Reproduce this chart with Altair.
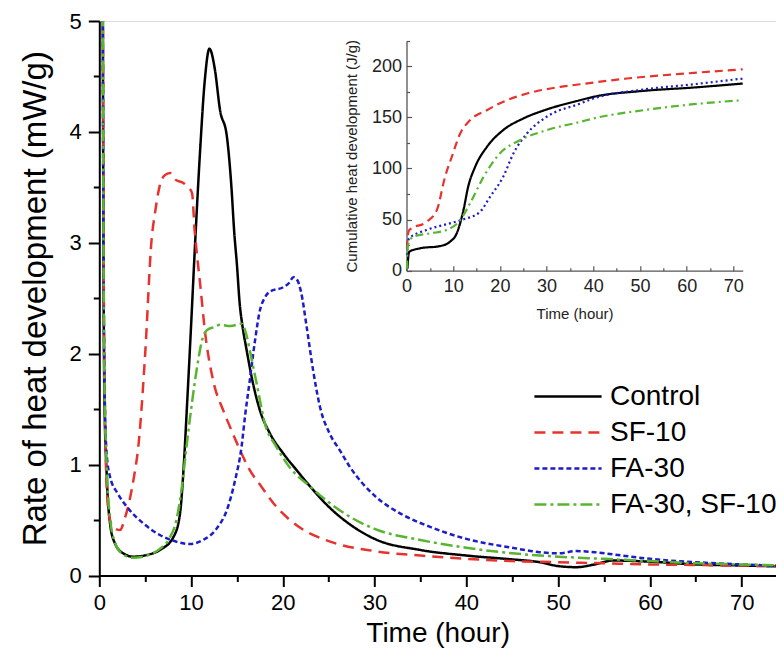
import altair as alt
import pandas as pd

FONT = "Liberation Sans"
names = ["Control", "SF-10", "FA-30", "FA-30, SF-10"]
colors = ["#000000", "#e8322e", "#1c1cc8", "#58b52f"]
dash_main = [[1, 0], [11, 7], [5, 3], [12, 4, 3, 4]]
dash_inset = [[1, 0], [8, 5], [2, 3], [8, 4, 2, 4]]

# ---- main chart: rate of heat development (mW/g) vs time (hour)
ctrl_t = [0.3, 0.45, 0.55, 0.8, 1.17, 1.7, 2.6, 3.7, 5.2, 6.6, 8.1, 8.8, 9.15, 9.6, 10.0, 10.4, 10.97, 11.5, 12.0, 12.6, 13.15, 13.9, 14.4, 14.7, 15.0, 15.3, 15.6, 16.06, 16.6, 17.5, 18.6, 20.05, 21.5, 23, 25, 27.5, 30, 35, 40, 45, 48, 50, 52, 54, 56, 60, 65, 70, 75]
ctrl_r = [9, 3.0, 1.65, 0.92, 0.47, 0.29, 0.2, 0.17, 0.185, 0.23, 0.35, 0.56, 0.92, 1.6, 2.25, 2.93, 3.81, 4.47, 4.75, 4.56, 4.2, 3.96, 3.5, 3.1, 2.8, 2.45, 2.25, 2.03, 1.79, 1.49, 1.28, 1.10, 0.95, 0.8, 0.62, 0.45, 0.33, 0.23, 0.18, 0.145, 0.12, 0.085, 0.075, 0.1, 0.135, 0.125, 0.1, 0.09, 0.08]

sf_t = [0.3, 0.5, 0.8, 1.17, 1.6, 2.25, 2.8, 3.3, 3.8, 4.25, 5.0, 5.7, 6.07, 6.6, 7.15, 7.7, 8.3, 9.15, 9.7, 10.1, 10.4, 10.7, 11.0, 11.5, 12.4, 13.5, 14.4, 15.5, 16.4, 17.5, 19.3, 21.9, 25, 30, 35, 40, 45, 50, 55, 60, 65, 70, 75]
sf_r = [9, 2.5, 0.8, 0.5, 0.43, 0.41, 0.52, 0.68, 0.9, 1.16, 2.0, 3.03, 3.27, 3.52, 3.61, 3.63, 3.57, 3.54, 3.5, 3.45, 3.1, 2.85, 2.62, 2.21, 1.76, 1.49, 1.31, 1.10, 0.95, 0.82, 0.62, 0.43, 0.31, 0.22, 0.18, 0.15, 0.13, 0.12, 0.11, 0.1, 0.095, 0.09, 0.085]

fa_t = [0.3, 0.45, 0.6, 0.8, 1.17, 2.0, 3.0, 4.8, 6.6, 8.4, 9.9, 11.3, 12.8, 13.9, 14.8, 15.5, 15.9, 16.4, 16.97, 17.5, 18.0, 18.6, 20.05, 20.7, 21.15, 21.6, 22.0, 22.6, 23.3, 24.05, 25.1, 26.2, 27.3, 30, 33, 36, 40, 45, 48, 50, 52, 54, 56, 60, 65, 70, 75]
fa_r = [9, 3.0, 1.6, 1.1, 0.89, 0.74, 0.62, 0.47, 0.365, 0.305, 0.284, 0.32, 0.425, 0.59, 0.86, 1.16, 1.45, 1.76, 2.12, 2.39, 2.5, 2.56, 2.6, 2.64, 2.69, 2.66, 2.55, 2.24, 1.85, 1.52, 1.28, 1.13, 0.98, 0.72, 0.55, 0.44, 0.33, 0.25, 0.21, 0.2, 0.22, 0.21, 0.19, 0.15, 0.12, 0.1, 0.085]

fs_t = [0.3, 0.45, 0.55, 0.8, 1.17, 1.7, 2.6, 3.7, 5.2, 6.6, 7.6, 8.4, 9.0, 9.5, 9.9, 10.6, 11.3, 11.7, 12.5, 13.15, 14.3, 15.5, 16.0, 16.4, 17.15, 18.05, 19.3, 20.8, 23, 25, 27.5, 30, 35, 40, 45, 50, 55, 60, 65, 70, 75]
fs_r = [9, 3.2, 1.8, 1.0, 0.52, 0.3, 0.19, 0.16, 0.18, 0.24, 0.33, 0.5, 0.8, 1.16, 1.43, 1.85, 2.15, 2.21, 2.24, 2.26, 2.25, 2.27, 2.18, 2.03, 1.73, 1.37, 1.16, 0.97, 0.8, 0.66, 0.52, 0.42, 0.32, 0.25, 0.2, 0.17, 0.15, 0.13, 0.11, 0.1, 0.09]

# ---- inset: cumulative heat development (J/g)
ic_t = [0.2, 0.35, 0.6, 2.9, 7.2, 9.3, 10.75, 12.2, 13.2, 14.7, 17.2, 20.7, 25, 30, 37.2, 40, 50.7, 61.5, 72]
ic_v = [2, 12, 18.6, 21.9, 24.1, 28.3, 36.5, 59.3, 82, 101.6, 121, 137.5, 148.9, 157.7, 166.8, 170, 175.9, 179.2, 183.1]
is_t = [0.1, 0.3, 0.6, 4.3, 6.5, 8.25, 9.7, 11.5, 13.6, 17.2, 21.5, 25.8, 32.9, 37.2, 47.2, 61.5, 72]
is_v = [22, 35, 39.8, 47.9, 59.3, 91.8, 111.4, 134.2, 147.2, 157, 166.8, 173.3, 179.8, 182.4, 188, 193.5, 197]
if_t = [0.1, 0.3, 0.6, 4.3, 9.3, 12.2, 15.75, 17.9, 20.7, 22.9, 25.8, 30, 37.2, 40, 50.7, 61.5, 72]
if_v = [15, 28, 31.7, 39.8, 46.3, 50.2, 57.6, 72.3, 91.8, 114.7, 134.2, 150.5, 163.5, 168.4, 177.2, 182.4, 188]
ig_t = [0.1, 0.2, 0.5, 1.5, 5.0, 8.6, 11.5, 13.6, 16.5, 20, 24.3, 30, 37.2, 40, 50.7, 61.5, 72]
ig_v = [2, 20, 28, 33.2, 36.5, 39.8, 49.5, 65.8, 91.8, 114.7, 127.7, 137.5, 145.6, 148.9, 157, 162.9, 166.8]

# axis tick positions
main_x_major = [0, 10, 20, 30, 40, 50, 60, 70]
main_x_minor = [5, 15, 25, 35, 45, 55, 65]
main_y_major = [0, 1, 2, 3, 4, 5]
main_y_minor = [0.5, 1.5, 2.5, 3.5, 4.5]
ins_x_major = [0, 10, 20, 30, 40, 50, 60, 70]
ins_x_minor = [5, 15, 25, 35, 45, 55, 65]
ins_y_major = [0, 50, 100, 150, 200]
ins_y_minor = [25, 75, 125, 175, 225]

main_rows = []
for n, ts, rs in zip(names, [ctrl_t, sf_t, fa_t, fs_t], [ctrl_r, sf_r, fa_r, fs_r]):
    for t, r in zip(ts, rs):
        main_rows.append({"series": n, "t": t, "r": r})
df_main = pd.DataFrame(main_rows)

ins_rows = []
for n, ts, vs in zip(names, [ic_t, is_t, if_t, ig_t], [ic_v, is_v, if_v, ig_v]):
    for t, v in zip(ts, vs):
        ins_rows.append({"series2": n, "ti": t, "v": v})
df_ins = pd.DataFrame(ins_rows)

W, H = 676.7, 554.5
XD = [0, 73.74]
ix0, ix1 = 307.2, 643.4
iy0, iy1 = 249.7, 19.7

leg = alt.Legend(
    title=None, orient="none", legendX=453.2, legendY=360,
    symbolType="M-2.4,0L2.4,0", symbolSize=784, symbolStrokeWidth=2.5,
    labelFont=FONT, labelFontSize=28, labelColor="black", labelOffset=26.5, labelLimit=0,
    rowPadding=6, padding=0,
)

main_xs = alt.Scale(domain=XD, range=[0, W], nice=False, zero=False)
main_ys = alt.Scale(domain=[0, 5], range=[H, 0], nice=False)

main = alt.Chart(df_main).mark_line(clip=True, strokeWidth=2.5, interpolate="monotone").encode(
    x=alt.X("t:Q", scale=main_xs,
            axis=alt.Axis(orient="bottom", values=main_x_major, format="d", tickSize=11,
                          labelFont=FONT, labelFontSize=22, labelColor="black", labelPadding=6,
                          labelOverlap=False, labelFlush=False,
                          domainColor="black", domainWidth=2, tickColor="black", tickWidth=2, grid=False,
                          title="Time (hour)", titleFont=FONT, titleFontSize=28, titleFontWeight="normal",
                          titleColor="black", titlePadding=6)),
    y=alt.Y("r:Q", scale=main_ys,
            axis=alt.Axis(orient="left", values=main_y_major, format="d", tickSize=11,
                          labelFont=FONT, labelFontSize=22, labelColor="black", labelPadding=7,
                          labelOverlap=False, labelFlush=False,
                          domainColor="black", domainWidth=2, tickColor="black", tickWidth=2, grid=False,
                          title="Rate of heat development (mW/g)", titleFont=FONT, titleFontSize=33,
                          titleFontWeight="normal", titleColor="black", titlePadding=17)),
    color=alt.Color("series:N", scale=alt.Scale(domain=names, range=colors), legend=leg),
    strokeDash=alt.StrokeDash("series:N", scale=alt.Scale(domain=names, range=dash_main), legend=leg),
)

main_minor = alt.Chart(df_main).mark_point(opacity=0, size=1).encode(
    x=alt.X("t:Q", scale=main_xs,
            axis=alt.Axis(orient="bottom", values=main_x_minor, tickSize=6, labels=False, domain=False,
                          tickColor="black", tickWidth=2, grid=False, title=None)),
    y=alt.Y("r:Q", scale=main_ys,
            axis=alt.Axis(orient="left", values=main_y_minor, tickSize=6, labels=False, domain=False,
                          tickColor="black", tickWidth=2, grid=False, title=None)),
)

ins_xs = alt.Scale(domain=[0, 72], range=[ix0, ix1], nice=False, zero=False)
ins_ys = alt.Scale(domain=[0, 225], range=[iy0, iy1], nice=False)

inset = alt.Chart(df_ins).mark_line(strokeWidth=2.2, interpolate="monotone").encode(
    x=alt.X("ti:Q", scale=ins_xs,
            axis=alt.Axis(orient="bottom", offset=-(H - iy0), values=ins_x_major, format="d",
                          ticks=False,
                          labelFont=FONT, labelFontSize=18, labelColor="#222", labelPadding=7,
                          labelOverlap=False, labelFlush=False,
                          domainColor="#555", domainWidth=1.3, grid=False,
                          title="Time (hour)", titleFont=FONT, titleFontSize=15, titleFontWeight="normal",
                          titleColor="#222", titlePadding=11)),
    y=alt.Y("v:Q", scale=ins_ys,
            axis=alt.Axis(orient="left", offset=-ix0, values=ins_y_major, format="d",
                          ticks=False,
                          labelFont=FONT, labelFontSize=18, labelColor="#222", labelPadding=5,
                          labelOverlap=False, labelFlush=False,
                          domainColor="#555", domainWidth=1.3, grid=False,
                          title="Cumulative heat development (J/g)", titleFont=FONT, titleFontSize=15,
                          titleFontWeight="normal", titleColor="#222", titlePadding=12)),
    color=alt.Color("series2:N", scale=alt.Scale(domain=names, range=colors), legend=None),
    strokeDash=alt.StrokeDash("series2:N", scale=alt.Scale(domain=names, range=dash_inset), legend=None),
)

# inward ticks of the inset: top/right oriented axes moved onto the inset's bottom/left edges
inset_major = alt.Chart(df_ins).mark_point(opacity=0, size=1).encode(
    x=alt.X("ti:Q", scale=ins_xs,
            axis=alt.Axis(orient="top", offset=-iy0, values=ins_x_major, tickSize=5, labels=False,
                          domain=False, tickColor="#555", tickWidth=1.2, grid=False, title=None)),
    y=alt.Y("v:Q", scale=ins_ys,
            axis=alt.Axis(orient="right", offset=-(W - ix0), values=ins_y_major, tickSize=5, labels=False,
                          domain=False, tickColor="#555", tickWidth=1.2, grid=False, title=None)),
)

inset_minor = alt.Chart(df_ins).mark_point(opacity=0, size=1).encode(
    x=alt.X("ti:Q", scale=ins_xs,
            axis=alt.Axis(orient="top", offset=-iy0, values=ins_x_minor, tickSize=3, labels=False,
                          domain=False, tickColor="#555", tickWidth=1.2, grid=False, title=None)),
    y=alt.Y("v:Q", scale=ins_ys,
            axis=alt.Axis(orient="right", offset=-(W - ix0), values=ins_y_minor, tickSize=3, labels=False,
                          domain=False, tickColor="#555", tickWidth=1.2, grid=False, title=None)),
)

chart = alt.layer(main, main_minor, inset, inset_major, inset_minor).resolve_scale(
    x="independent", y="independent", color="independent", strokeDash="independent"
).properties(
    width=W, height=H,
    autosize=alt.AutoSizeParams(type="none"),
    padding={"left": 91.3, "top": 13, "right": 0, "bottom": 76},
).configure_view(stroke=None).configure(background="white")

chart.save("out.html", embed_options={"renderer": "svg", "actions": False})
